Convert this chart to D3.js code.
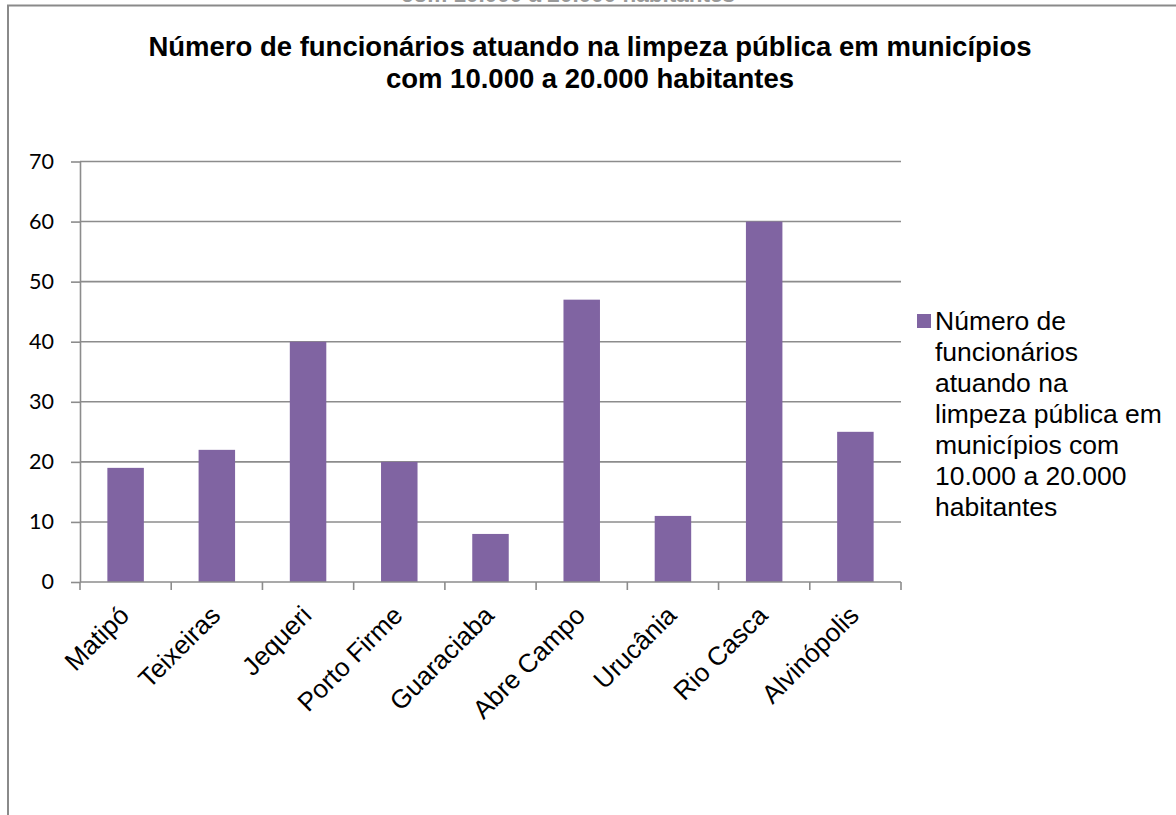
<!DOCTYPE html>
<html>
<head>
<meta charset="utf-8">
<script src="https://cdn.jsdelivr.net/npm/d3@7"></script>
<style>
  html, body { margin: 0; padding: 0; background: #fff; }
  svg { display: block; }
</style>
</head>
<body>
<svg id="chart" width="1176" height="815"></svg>
<script>
const categories = ["Matipó", "Teixeiras", "Jequeri", "Porto Firme", "Guaraciaba", "Abre Campo", "Urucânia", "Rio Casca", "Alvinópolis"];
const values = [19, 22, 40, 20, 8, 47, 11, 60, 25];
const yTicks = [0, 10, 20, 30, 40, 50, 60, 70];
const titleLines = ["Número de funcionários atuando na limpeza pública em municípios", "com 10.000 a 20.000 habitantes"];
const legendLines = ["Número de", "funcionários", "atuando na", "limpeza pública em", "municípios com", "10.000 a 20.000", "habitantes"];
const cutTopText = "com 10.000 a 20.000 habitantes";

const svg = d3.select("#chart");
const gridColor = "#8c8c8c";
const barColor = "#8064A2";

// cut-off text from the chart above, only its lower edge shows
svg.append("text")
  .attr("x", 568).attr("y", 2)
  .attr("text-anchor", "middle")
  .attr("font-family", "Liberation Sans, Arial, sans-serif")
  .attr("font-weight", "bold")
  .attr("font-size", 22.5)
  .attr("fill", "#999")
  .text(cutTopText);

// chart frame
svg.append("rect")
  .attr("x", 8).attr("y", 5.5)
  .attr("width", 1300).attr("height", 1000)
  .attr("fill", "#fff")
  .attr("stroke", "#8a8a8a")
  .attr("stroke-width", 2);

// title
const title = svg.append("text")
  .attr("text-anchor", "middle")
  .attr("font-family", "Liberation Sans, Arial, sans-serif")
  .attr("font-weight", "bold")
  .attr("font-size", 27.5)
  .attr("fill", "#000");
titleLines.forEach((t, i) => {
  title.append("tspan").attr("x", 590).attr("y", 56 + i * 32).text(t);
});

const plotLeft = 80, plotRight = 901, plotTop = 161.5, plotBottom = 582;

const x = d3.scaleBand().domain(categories).range([plotLeft, plotRight]).paddingInner(0.6).paddingOuter(0.3);
const y = d3.scaleLinear().domain([0, 70]).range([plotBottom, plotTop]);

// gridlines
svg.append("g").selectAll("line").data(yTicks.filter(d => d > 0)).join("line")
  .attr("x1", plotLeft).attr("x2", plotRight)
  .attr("y1", d => y(d)).attr("y2", d => y(d))
  .attr("stroke", gridColor).attr("stroke-width", 1.6);

// bars
svg.append("g").selectAll("rect").data(values).join("rect")
  .attr("x", (d, i) => x(categories[i]))
  .attr("y", d => y(d))
  .attr("width", x.bandwidth())
  .attr("height", d => y(0) - y(d))
  .attr("fill", barColor);

// y axis
const yAxis = d3.axisLeft(y).tickValues(yTicks).tickSize(9).tickPadding(17).tickSizeOuter(0);
const gy = svg.append("g").attr("transform", `translate(${plotLeft},0)`).call(yAxis);
gy.select(".domain").attr("stroke", gridColor).attr("stroke-width", 1.6);
gy.selectAll(".tick line").attr("stroke", gridColor).attr("stroke-width", 1.6);
gy.selectAll(".tick text")
  .attr("font-family", "Lato, 'Open Sans', sans-serif")
  .attr("font-size", 21.5)
  .attr("fill", "#000");

// x axis line and category boundary ticks
const step = x.step();
const boundaries = d3.range(categories.length + 1).map(i => plotLeft + i * step);
svg.append("line")
  .attr("x1", plotLeft).attr("x2", plotRight)
  .attr("y1", plotBottom).attr("y2", plotBottom)
  .attr("stroke", gridColor).attr("stroke-width", 1.6);
svg.append("g").selectAll("line").data(boundaries).join("line")
  .attr("x1", d => d).attr("x2", d => d)
  .attr("y1", plotBottom).attr("y2", plotBottom + 8)
  .attr("stroke", gridColor).attr("stroke-width", 1.6);

// category labels
svg.append("g").selectAll("text").data(categories).join("text")
  .attr("transform", d => `translate(${x(d) + x.bandwidth() / 2 + 5},${plotBottom + 35}) rotate(-45)`)
  .attr("text-anchor", "end")
  .attr("font-family", "Liberation Sans, Arial, sans-serif")
  .attr("font-size", 26)
  .attr("fill", "#000")
  .text(d => d);

// legend
svg.append("rect")
  .attr("x", 917).attr("y", 314)
  .attr("width", 14).attr("height", 14)
  .attr("fill", barColor);
const leg = svg.append("text")
  .attr("font-family", "Liberation Sans, Arial, sans-serif")
  .attr("font-size", 26.5)
  .attr("fill", "#000");
legendLines.forEach((t, i) => {
  leg.append("tspan").attr("x", 935).attr("y", 330 + i * 31).text(t);
});
</script>
</body>
</html>
